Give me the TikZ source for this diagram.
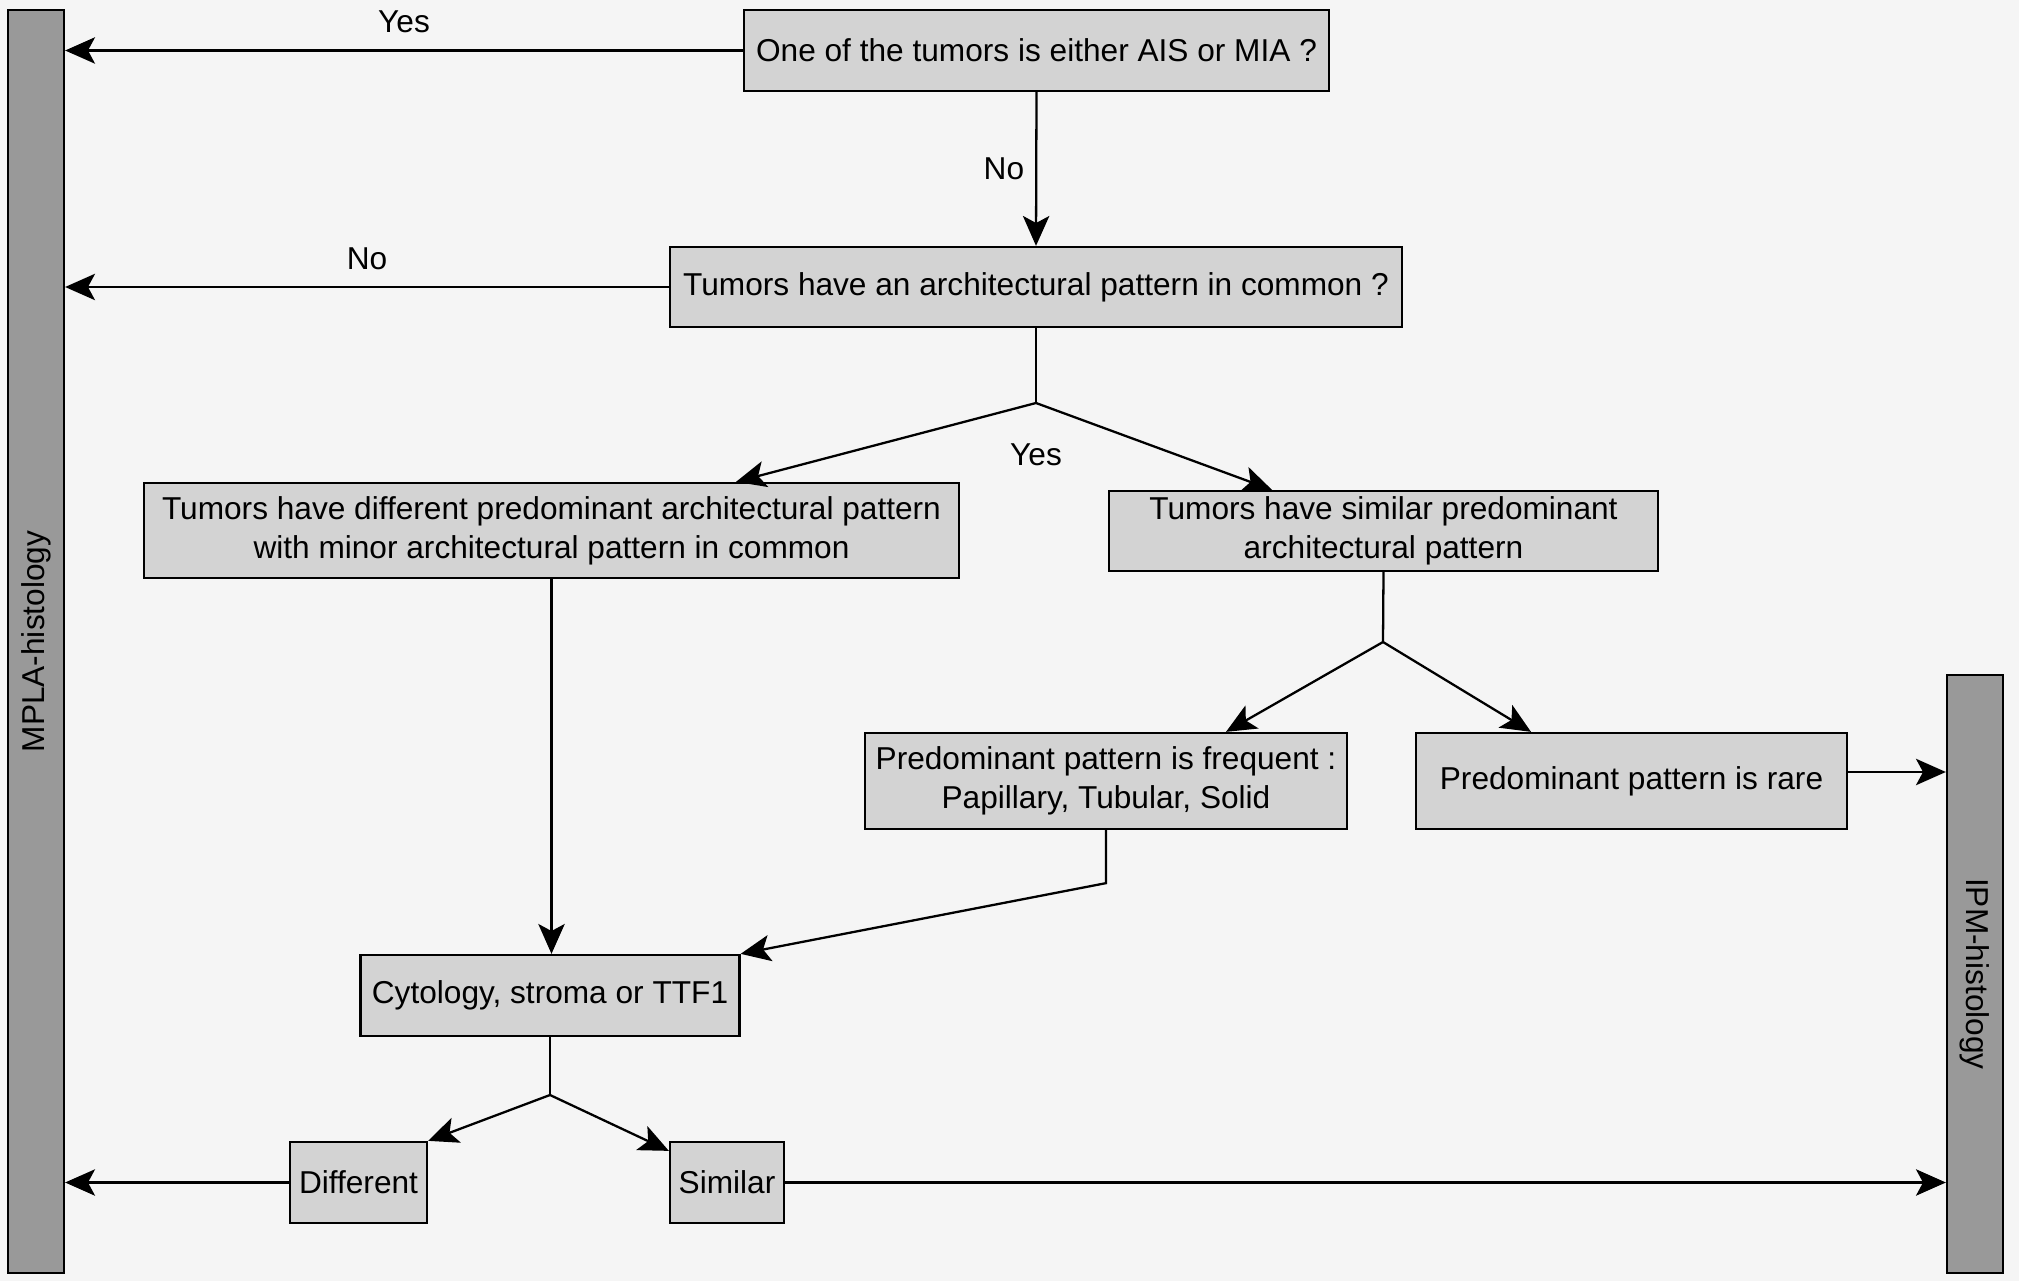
\documentclass[tikz,border=0pt]{standalone}
\usepackage{fontspec}
\setmainfont{Liberation Sans}
\usepackage{tikz}
\usetikzlibrary{arrows.meta}
\usetikzlibrary{positioning}
\definecolor{bggray}{HTML}{F5F5F5}
\definecolor{boxgray}{HTML}{D3D3D3}
\definecolor{bargray}{HTML}{999999}

\begin{document}
\begin{tikzpicture}[
  > = {Stealth[length=17pt,width=15pt,inset=4pt]},
  line width=1.3pt,
  every node/.style = {font=\fontsize{18}{22}\selectfont},
  box/.style = {draw,line width=1.3pt,fill=boxgray,align=center,inner sep=2pt},
  bar/.style = {draw,line width=1.3pt,fill=bargray,minimum width=1.12cm,inner sep=0pt},
  lbl/.style = {inner sep=0.22cm}
  ]
	\fill[bggray] (0,0) rectangle (40.38,25.62);
	\useasboundingbox (0,0) rectangle (40.38,25.62);

	% side bars
	\node[bar,minimum height=25.26cm,label={[rotate=90]center:MPLA-histology}] (mpla) at (0.72,12.79) {};
	\node[bar,minimum height=11.96cm,label={[rotate=-90]center:IPM-histology}] (ipm) at (39.5,6.14) {};

	\coordinate (j1) at (20.72,17.56);
	\coordinate (j2) at (27.66,12.78);
	\coordinate (j3) at (11.0,3.72);

	\node[box,minimum width=11.7cm,minimum height=1.62cm] (q1) at (20.73,24.61) {One of the tumors is either AIS or MIA ?};
	\node[box,minimum width=14.64cm,minimum height=1.6cm] (q2) at (20.72,19.88) {Tumors have an architectural pattern in common ?};
	\node[box,minimum width=16.3cm,minimum height=1.9cm] (diff) at (11.03,15.01) {Tumors have different predominant architectural pattern\\with minor architectural pattern in common};
	\node[box,minimum width=10.98cm,minimum height=1.6cm] (sim) at (27.67,15.0) {Tumors have similar predominant\\architectural pattern};
	\node[box,minimum width=9.64cm,minimum height=1.92cm] (freq) at (22.12,10.0) {Predominant pattern is frequent :\\Papillary, Tubular, Solid};
	\node[box,minimum width=8.62cm,minimum height=1.92cm] (rare) at (32.63,10.0) {Predominant pattern is rare};
	\node[box,minimum width=7.58cm,minimum height=1.62cm] (cyto) at (11.0,5.71) {Cytology, stroma or TTF1};
	\node[box,minimum width=2.74cm,minimum height=1.62cm] (differ) at (7.17,1.97) {Different};
	\node[box,minimum width=2.28cm,minimum height=1.62cm] (simil) at (14.54,1.97) {Similar};

	% first questions
	\draw[->] (q1.west) -- node[lbl,midway,above=3pt] (yes1) {Yes} (q1.west -| mpla.east);
	\draw[->] (q1.south) -- node[lbl,midway,left] (no1) {No} (q2.north);
	\draw[->] (q2.west) -- node[lbl,midway,above=3pt] (no2) {No} (q2.west -| mpla.east);

	% split on common pattern
	\draw (q2.south) -- (j1);
	\node[lbl,below=16pt] (yes2) at (j1) {Yes};
	\draw[->] (j1) -- ([xshift=3.69cm]diff.north);
	\draw[->] (j1) -- ([xshift=-2.23cm]sim.north);

	\draw (sim.south) -- (j2);
	\draw[->] (j2) -- ([xshift=2.4cm]freq.north);
	\draw[->] (j2) -- ([xshift=-2.01cm]rare.north);
	\draw[->] ([yshift=0.18cm]rare.east) -- ([yshift=0.18cm]rare.east -| ipm.west);

	\draw[->] (freq.south) -- ++(0,-1.06) -- (cyto.north east);
	\draw[->] (diff.south) -- (diff.south |- cyto.north);

	% last step
	\draw (cyto.south) -- (j3);
	\draw[->] (j3) -- (differ.north east);
	\draw[->] (j3) -- ([yshift=-0.2cm]simil.north west);
	\draw[->] (differ.west) -- (differ.west -| mpla.east);
	\draw[->] (simil.east) -- (simil.east -| ipm.west);

\end{tikzpicture}
\end{document}
